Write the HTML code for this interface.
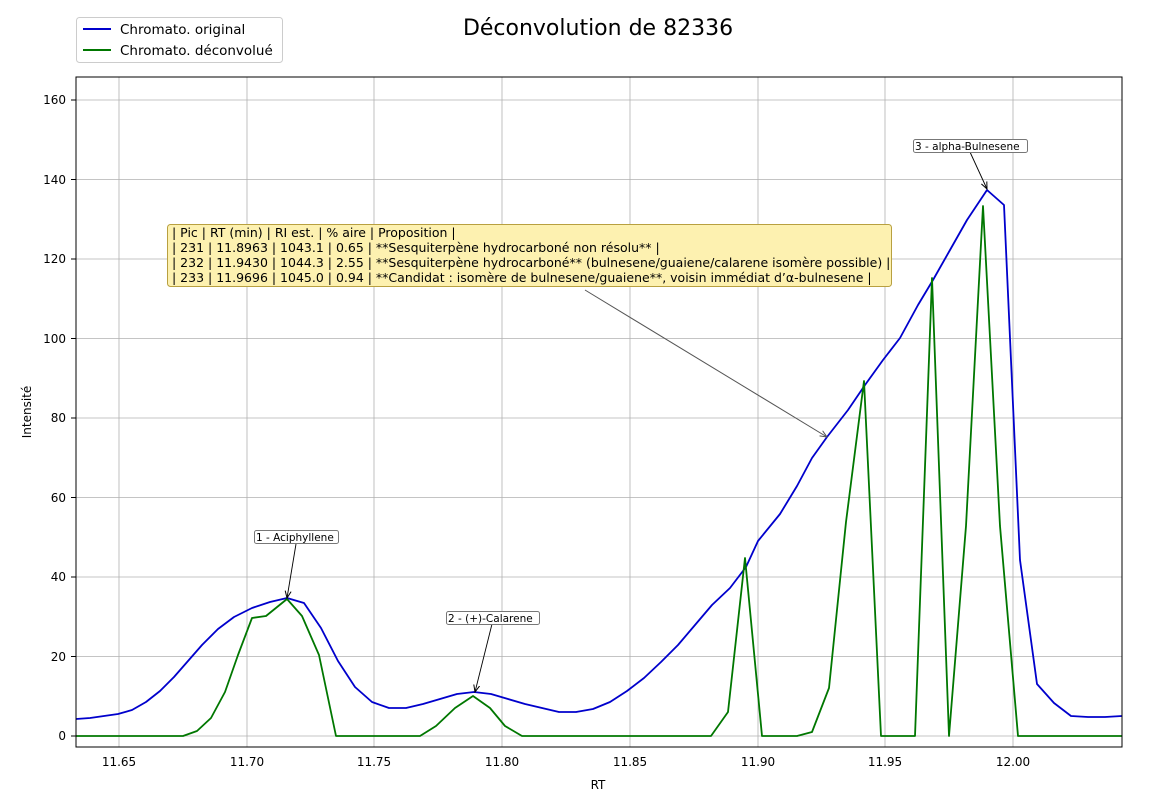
<!DOCTYPE html>
<html><head><meta charset="utf-8"><style>
body{margin:0;background:#fff;}
svg{display:block;font-family:"DejaVu Sans","Liberation Sans",sans-serif;}
</style></head><body>
<svg width="1168" height="804" viewBox="0 0 1168 804" xmlns="http://www.w3.org/2000/svg">
<defs>
<marker id="ah" markerWidth="8" markerHeight="8" refX="7" refY="4" orient="auto" markerUnits="userSpaceOnUse"><path d="M0,1 L7,4 L0,7" fill="none" stroke="#000" stroke-width="1"/></marker>
<marker id="ahg" markerWidth="8" markerHeight="8" refX="7" refY="4" orient="auto" markerUnits="userSpaceOnUse"><path d="M0,1 L7,4 L0,7" fill="none" stroke="#555" stroke-width="1"/></marker>
<clipPath id="c"><rect x="76" y="77" width="1046" height="670"/></clipPath>
</defs>
<rect width="1168" height="804" fill="#fff"/>
<text x="598" y="35" font-size="22" text-anchor="middle">Déconvolution de 82336</text>
<g stroke="#b0b0b0" stroke-width="0.8">
<line x1="119" y1="77" x2="119" y2="747"/><line x1="247" y1="77" x2="247" y2="747"/><line x1="374" y1="77" x2="374" y2="747"/><line x1="502" y1="77" x2="502" y2="747"/><line x1="630" y1="77" x2="630" y2="747"/><line x1="758" y1="77" x2="758" y2="747"/><line x1="885" y1="77" x2="885" y2="747"/><line x1="1013" y1="77" x2="1013" y2="747"/>
<line x1="76" y1="736" x2="1122" y2="736"/><line x1="76" y1="656.5" x2="1122" y2="656.5"/><line x1="76" y1="577" x2="1122" y2="577"/><line x1="76" y1="497.5" x2="1122" y2="497.5"/><line x1="76" y1="418" x2="1122" y2="418"/><line x1="76" y1="338.5" x2="1122" y2="338.5"/><line x1="76" y1="259" x2="1122" y2="259"/><line x1="76" y1="179.5" x2="1122" y2="179.5"/><line x1="76" y1="100" x2="1122" y2="100"/>
</g>
<g clip-path="url(#c)" fill="none" stroke-width="1.8" stroke-linejoin="round">
<polyline stroke="#0000cc" points="76,719 90,718 104,716 118,714 132,710 146,702 160,691 174,677 188,661 202,645 218,629 234,617 252,608 270,602 287,598 304,603 321,628 338,661 355,687 372,702 389,708 406,708 423,704 440,699 457,694 474,692 491,694 508,699 525,704 542,708 559,712 576,712 593,709 610,702 627,691 644,678 661,662 678,645 695,625 712,605 730,588 746,567 758,541 780,514 797,486 812,458 827,437 848,410 865,385 883,360 900,338 918,305 933,280 950,250 967,220 987,190 1004,205 1020,560 1037,684 1054,703 1071,716 1088,717 1105,717 1122,716"/>
<polyline stroke="#007700" points="76,736 183,736 197,731 211,718 225,692 238,655 252,618 266,616 287,599 302,616 319,655 336,736 420,736 436,726 455,708 473,696 490,708 505,726 522,736 711,736 728,712 745,558 762,736 797,736 812,732 829,688 846,522 864,381 881,736 915,736 932,278 949,736 966,526 983,206 1000,526 1018,736 1122,736"/>
</g>
<rect x="76" y="77" width="1046" height="670" fill="none" stroke="#000" stroke-width="1"/>
<g font-size="12" text-anchor="middle">
<text x="119" y="766">11.65</text><text x="247" y="766">11.70</text><text x="374" y="766">11.75</text><text x="502" y="766">11.80</text><text x="630" y="766">11.85</text><text x="758" y="766">11.90</text><text x="885" y="766">11.95</text><text x="1013" y="766">12.00</text>
<text x="598" y="789">RT</text>
</g>
<g font-size="12" text-anchor="end">
<text x="66" y="740">0</text><text x="66" y="661">20</text><text x="66" y="581">40</text><text x="66" y="502">60</text><text x="66" y="422">80</text><text x="66" y="343">100</text><text x="66" y="263">120</text><text x="66" y="184">140</text><text x="66" y="104">160</text>
</g>
<g stroke="#000"><line x1="71" y1="736" x2="76" y2="736"/><line x1="71" y1="656.5" x2="76" y2="656.5"/><line x1="71" y1="577" x2="76" y2="577"/><line x1="71" y1="497.5" x2="76" y2="497.5"/><line x1="71" y1="418" x2="76" y2="418"/><line x1="71" y1="338.5" x2="76" y2="338.5"/><line x1="71" y1="259" x2="76" y2="259"/><line x1="71" y1="179.5" x2="76" y2="179.5"/><line x1="71" y1="100" x2="76" y2="100"/></g>
<text x="31" y="412" font-size="12" text-anchor="middle" transform="rotate(-90 31 412)">Intensité</text>
<rect x="76.5" y="17.5" width="206" height="45" rx="3" fill="#fff" stroke="#ccc"/>
<line x1="83" y1="29" x2="111" y2="29" stroke="#0000cc" stroke-width="2"/>
<line x1="83" y1="50" x2="111" y2="50" stroke="#007700" stroke-width="2"/>
<text x="120" y="34" font-size="13.5">Chromato. original</text>
<text x="120" y="55" font-size="13.5">Chromato. déconvolué</text>
<line x1="585" y1="290" x2="827" y2="437" stroke="#555" stroke-width="1" marker-end="url(#ahg)"/>
<rect x="167.5" y="224.5" width="724" height="62" rx="3" fill="#fdf1b0" stroke="#b8a040"/>
<g font-size="12.5">
<text x="172" y="237">| Pic | RT (min) | RI est. | % aire | Proposition |</text>
<text x="172" y="252">| 231 | 11.8963 | 1043.1 | 0.65 | **Sesquiterpène hydrocarboné non résolu** |</text>
<text x="172" y="267">| 232 | 11.9430 | 1044.3 | 2.55 | **Sesquiterpène hydrocarboné** (bulnesene/guaiene/calarene isomère possible) |</text>
<text x="172" y="282">| 233 | 11.9696 | 1045.0 | 0.94 | **Candidat : isomère de bulnesene/guaiene**, voisin immédiat d’α-bulnesene |</text>
</g>
<g stroke="#000" stroke-width="0.9">
<line x1="296" y1="544" x2="287" y2="598" marker-end="url(#ah)"/>
<line x1="492" y1="624" x2="475" y2="692" marker-end="url(#ah)"/>
<line x1="970" y1="152" x2="987" y2="189" marker-end="url(#ah)"/>
</g>
<g font-size="10.5">
<rect x="254.5" y="530.5" width="84" height="13" rx="2" fill="#fff" stroke="#777"/>
<text x="256" y="541">1 - Aciphyllene</text>
<rect x="446.5" y="611.5" width="93" height="13" rx="2" fill="#fff" stroke="#777"/>
<text x="448" y="622">2 - (+)-Calarene</text>
<rect x="913.5" y="139.5" width="114" height="13" rx="2" fill="#fff" stroke="#777"/>
<text x="915" y="150">3 - alpha-Bulnesene</text>
</g>
</svg>
</body></html>
